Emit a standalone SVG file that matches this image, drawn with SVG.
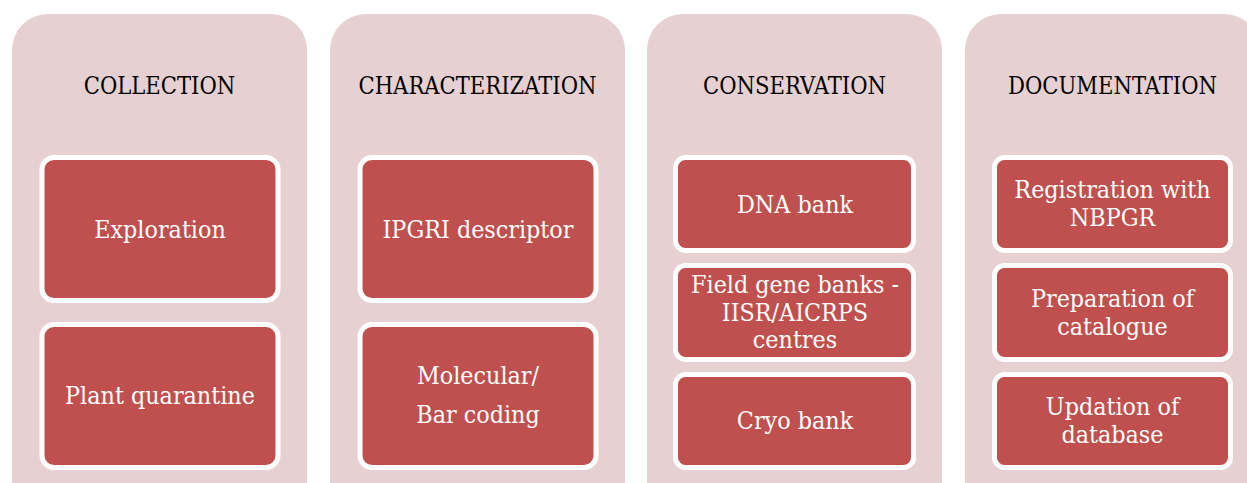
<svg xmlns="http://www.w3.org/2000/svg" width="1247" height="483" viewBox="0 0 1247 483">
  <style>
    .panel { fill: #E6D0D1; }
    .box { fill: #C0504D; stroke: #FFFFFF; stroke-width: 5; }
    .title { font-family: "DejaVu Serif", "Liberation Serif", serif; font-stretch: condensed; font-size: 23.5px; fill: #000000; text-anchor: middle; }
    .label { font-family: "DejaVu Serif", "Liberation Serif", serif; font-stretch: condensed; font-size: 24.8px; fill: #FFFFFF; text-anchor: middle; }
  </style>
  <rect width="1247" height="483" fill="#FFFFFF"/>

  <!-- Column 1: Collection -->
  <g id="collection">
    <rect class="panel" x="12" y="14" width="295" height="510" rx="36"/>
    <text class="title" x="159.5" y="94">COLLECTION</text>
  </g>
  <g id="exploration">
    <rect class="box" x="42" y="157.5" width="236" height="143" rx="12"/>
    <text class="label" x="160" y="238">Exploration</text>
  </g>
  <g id="plant-quarantine">
    <rect class="box" x="42" y="324.5" width="236" height="143" rx="12"/>
    <text class="label" x="160" y="404">Plant quarantine</text>
  </g>

  <!-- Column 2: Characterization -->
  <g id="characterization">
    <rect class="panel" x="330" y="14" width="295" height="510" rx="36"/>
    <text class="title" x="477.5" y="94">CHARACTERIZATION</text>
  </g>
  <g id="ipgri-descriptor">
    <rect class="box" x="360" y="157.5" width="236" height="143" rx="12"/>
    <text class="label" x="478" y="238">IPGRI descriptor</text>
  </g>
  <g id="molecular">
    <rect class="box" x="360" y="324.5" width="236" height="143" rx="12"/>
    <text class="label" x="478" y="384">Molecular/</text>
    <text class="label" x="478" y="423">Bar coding</text>
  </g>

  <!-- Column 3: Conservation -->
  <g id="conservation">
    <rect class="panel" x="647" y="14" width="295" height="510" rx="36"/>
    <text class="title" x="794.5" y="94">CONSERVATION</text>
  </g>
  <g id="dna-bank">
    <rect class="box" x="675.5" y="157.5" width="238" height="93" rx="10"/>
    <text class="label" x="795" y="213">DNA bank</text>
  </g>
  <g id="field-gene-banks">
    <rect class="box" x="675.5" y="265.5" width="238" height="94" rx="10"/>
    <text class="label" x="795" y="293">Field gene banks -</text>
    <text class="label" x="795" y="321">IISR/AICRPS</text>
    <text class="label" x="795" y="348">centres</text>
  </g>
  <g id="cryo-bank">
    <rect class="box" x="675.5" y="374.5" width="238" height="93" rx="10"/>
    <text class="label" x="795" y="429">Cryo bank</text>
  </g>

  <!-- Column 4: Documentation -->
  <g id="documentation">
    <rect class="panel" x="965" y="14" width="295" height="510" rx="36"/>
    <text class="title" x="1112.5" y="94">DOCUMENTATION</text>
  </g>
  <g id="registration">
    <rect class="box" x="994.5" y="157.5" width="236" height="93" rx="10"/>
    <text class="label" x="1112.5" y="198">Registration with</text>
    <text class="label" x="1112.5" y="226">NBPGR</text>
  </g>
  <g id="catalogue">
    <rect class="box" x="994.5" y="265.5" width="236" height="94" rx="10"/>
    <text class="label" x="1112.5" y="307">Preparation of</text>
    <text class="label" x="1112.5" y="335">catalogue</text>
  </g>
  <g id="database">
    <rect class="box" x="994.5" y="374.5" width="236" height="93" rx="10"/>
    <text class="label" x="1112.5" y="415">Updation of</text>
    <text class="label" x="1112.5" y="443">database</text>
  </g>

  <!-- no connectors between nodes -->
  <g id="connectors"></g>
</svg>
